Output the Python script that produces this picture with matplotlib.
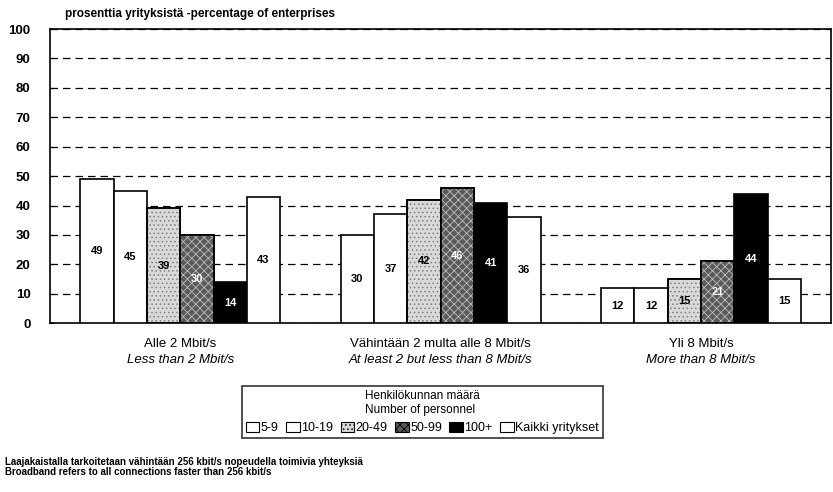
# Laajakaistayhteyksien nopeus henkilöstön koon mukaan

import matplotlib
matplotlib.use("Agg")
import matplotlib.pyplot as plt
import numpy as np

# data
groups = ["Alle 2 Mbit/s", "Vähintään 2 multa alle 8 Mbit/s", "Yli 8 Mbit/s"]
groups_en = ["Less than 2 Mbit/s", "At least 2 but less than 8 Mbit/s", "More than 8 Mbit/s"]
sizes = ["5-9", "10-19", "20-49", "50-99", "100+", "Kaikki yritykset"]
v_5_9 = [49, 30, 12]
v_10_19 = [45, 37, 12]
v_20_49 = [39, 42, 15]
v_50_99 = [30, 46, 21]
v_100 = [14, 41, 44]
v_all = [43, 36, 15]
series = [v_5_9, v_10_19, v_20_49, v_50_99, v_100, v_all]

# tyylit
faces = ["white", "white", "#d9d9d9", "#5a5a5a", "black", "white"]
hatches = [None, None, "....", "xxxx", None, None]
hatch_cols = ["black", "black", "#808080", "#bdbdbd", "black", "black"]
text_cols = ["black", "black", "black", "white", "white", "black"]

plt.rcParams["font.family"] = ["Liberation Sans", "DejaVu Sans"]
plt.rcParams["hatch.linewidth"] = 0.6

fig = plt.figure(figsize=(8.33, 4.92), dpi=100)
ax = fig.add_axes([0.06, 0.343, 0.938, 0.598])

x = np.arange(len(groups))
w = 0.128
for i, vals in enumerate(series):
    pos = x + (i - 2.5) * w
    bars = ax.bar(pos, vals, w, color=faces[i], edgecolor="black", lw=1.2,
                  zorder=3)
    if hatches[i]:
        ax.bar(pos, vals, w, color="none", edgecolor=hatch_cols[i],
               hatch=hatches[i], lw=0, zorder=3)
        ax.bar(pos, vals, w, color="none", edgecolor="black", lw=1.2, zorder=3)
    for p, v in zip(pos, vals):
        ax.text(p, v / 2, str(v), ha="center", va="center", fontsize=8,
                fontweight="bold", color=text_cols[i], zorder=4)

ax.set_xlim(-0.5, 2.5)
ax.set_ylim(0, 100)
ax.set_yticks(range(0, 101, 10))
ax.tick_params(axis="y", direction="in", length=3, labelsize=9.5, pad=14)
ax.tick_params(axis="x", length=0, labelbottom=False)
for t in ax.get_yticklabels():
    t.set_fontweight("bold")
ax.grid(True, axis="y", ls=(0, (6, 4)), color="black", lw=0.9, zorder=0)
for s in ax.spines.values():
    s.set_linewidth(1.2)

for xi, fi, en in zip(x, groups, groups_en):
    ax.text(xi, -7, fi, ha="center", va="center", fontsize=9.5,
            transform=ax.transData, clip_on=False)
    ax.text(xi, -12.5, en, ha="center", va="center", fontsize=9.5,
            style="italic", clip_on=False)

fig.text(0.078, 0.972, "prosenttia yrityksistä -percentage of enterprises",
         fontsize=8.5, fontweight="bold", va="center")

# selite
handles = [plt.Rectangle((0, 0), 1, 1, facecolor=faces[i], edgecolor="black",
                         hatch=hatches[i], lw=0.8) for i in range(6)]
leg = fig.legend(handles, sizes, loc="center", bbox_to_anchor=(0.507, 0.162),
                 ncol=6, fontsize=9, frameon=True, fancybox=False,
                 edgecolor="black", handlelength=1.1, handleheight=0.8,
                 handletextpad=0.1, columnspacing=0.6, borderpad=0.3,
                 title="Henkilökunnan määrä\nNumber of personnel",
                 title_fontsize=8.5)
leg.get_frame().set_linewidth(1.2)

fig.text(0.006, 0.06, "Laajakaistalla tarkoitetaan vähintään 256 kbit/s nopeudella toimivia yhteyksiä",
         fontsize=7, fontweight="bold", va="center")
fig.text(0.006, 0.04, "Broadband refers to all connections faster than 256 kbit/s",
         fontsize=7, fontweight="bold", va="center")

fig.savefig("out.png", dpi=100)
